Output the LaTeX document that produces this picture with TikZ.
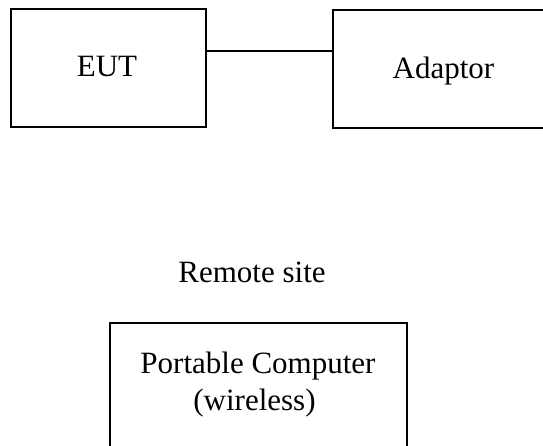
\documentclass[tikz,border=0pt]{standalone}
\usepackage{fontspec}
\setmainfont{Liberation Serif}
\begin{document}
\begin{tikzpicture}[x=1pt,y=-1pt,
  box/.style={draw=black,line width=1.6pt,rectangle,inner sep=0pt},
  lbl/.style={font=\fontsize{31}{37}\selectfont,inner sep=0pt,anchor=base},
  link/.style={draw=black,line width=1.6pt}]
  \useasboundingbox (0,0) rectangle (543,445);
  \clip (0,0) rectangle (543,445);
  % equipment under test and its adaptor
  \node[box,minimum width=195pt,minimum height=118pt] (eut) at (108.5,68) {};
  \node[box,minimum width=222pt,minimum height=118pt] (adaptor) at (444,69) {};
  \node[lbl] (eutlbl) at (107,76) {EUT};
  \node[lbl] (adaptorlbl) at (443.5,78) {Adaptor};
  \draw[link] ([yshift=17pt]eut.east) -- ([yshift=17pt]eut.east -| adaptor.west);
  % remote side
  \node[lbl] (remote) at (252,282) {Remote site};
  \node[box,minimum width=297pt,minimum height=140pt] (pc) at (258.5,393) {};
  \node[lbl] (pcl1) at (258,373) {Portable Computer};
  \node[lbl] (pcl2) at (254.5,410) {(wireless)};
\end{tikzpicture}
\end{document}
